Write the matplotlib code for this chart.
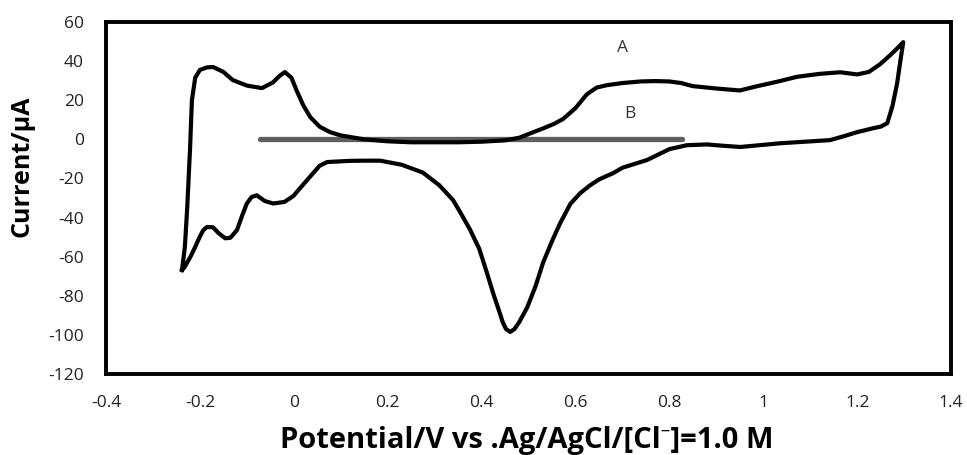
import matplotlib.pyplot as plt
import numpy as np

plt.rcParams['axes.unicode_minus'] = False

# curva A (voltametria ciclica)
E_A = [-0.238, -0.232, -0.227, -0.221, -0.217, -0.210, -0.200, -0.185, -0.172, -0.150,
       -0.130, -0.100, -0.068, -0.045, -0.030, -0.019, -0.005, 0.006, 0.020, 0.035,
       0.055, 0.077, 0.100, 0.120, 0.150, 0.200, 0.250, 0.300, 0.350, 0.400,
       0.450, 0.480, 0.503, 0.530, 0.555, 0.574, 0.600, 0.624, 0.645, 0.667,
       0.700, 0.738, 0.770, 0.800, 0.825, 0.850, 0.900, 0.950, 0.987, 1.030,
       1.072, 1.120, 1.164, 1.200, 1.225, 1.249, 1.270, 1.285, 1.298,
       1.293, 1.285, 1.275, 1.264, 1.250, 1.234, 1.200, 1.170, 1.142, 1.090,
       1.036, 0.990, 0.951, 0.910, 0.880, 0.837, 0.800, 0.752, 0.700, 0.680,
       0.650, 0.631, 0.610, 0.589, 0.567, 0.550, 0.531, 0.515, 0.497, 0.480,
       0.470, 0.461, 0.452, 0.445, 0.439, 0.425, 0.411, 0.395, 0.375, 0.355,
       0.339, 0.310, 0.275, 0.230, 0.184, 0.150, 0.120, 0.095, 0.071, 0.055,
       0.035, 0.015, -0.001, -0.020, -0.044, -0.062, -0.079, -0.090, -0.100, -0.110,
       -0.121, -0.135, -0.146, -0.160, -0.172, -0.185, -0.193, -0.200, -0.210, -0.220,
       -0.227, -0.233, -0.238]
I_A = [-66.8, -55.0, -35.0, -5.0, 20.0, 31.5, 35.5, 36.8, 37.0, 34.5,
       30.3, 27.5, 26.2, 29.0, 32.5, 34.4, 31.5, 25.0, 17.5, 11.4,
       6.5, 3.7, 2.0, 1.2, 0.0, -1.0, -1.5, -1.5, -1.5, -1.2,
       -0.5, 0.8, 3.0, 5.5, 8.0, 10.5, 16.0, 23.0, 26.5, 27.7,
       28.8, 29.6, 29.8, 29.6, 28.8, 27.2, 26.0, 25.0, 27.2, 29.5,
       32.0, 33.5, 34.3, 33.2, 34.5, 38.5, 43.0, 46.5, 49.7,
       42.0, 28.7, 17.0, 8.3, 6.5, 5.7, 3.7, 1.5, -0.4, -1.2,
       -2.0, -3.0, -3.9, -3.2, -2.6, -3.0, -5.0, -10.6, -14.5, -17.3,
       -20.5, -23.5, -27.5, -33.0, -43.0, -52.0, -63.0, -75.0, -86.0, -93.5,
       -97.0, -98.5, -97.0, -93.5, -89.0, -79.0, -68.0, -56.0, -46.0, -37.5,
       -31.0, -23.5, -17.0, -13.0, -10.9, -10.9, -11.0, -11.3, -11.6, -13.5,
       -19.0, -24.5, -29.0, -32.0, -32.8, -31.5, -28.6, -29.5, -32.8, -39.0,
       -46.4, -50.3, -50.6, -48.0, -45.0, -44.8, -46.5, -49.7, -55.0, -60.0,
       -63.0, -65.5, -66.8]

# linha B (branco)
E_B = [-0.072, 0.827]
I_B = [0.3, 0.3]

xticks = [-0.4, -0.2, 0, 0.2, 0.4, 0.6, 0.8, 1, 1.2, 1.4]
xtick_labels = ['-0.4', '-0.2', '0', '0.2', '0.4', '0.6', '0.8', '1', '1.2', '1.4']
yticks = [-120, -100, -80, -60, -40, -20, 0, 20, 40, 60]

fonte = ['Open Sans', 'Noto Sans', 'DejaVu Sans']

fig = plt.figure(figsize=(9.67, 4.55), dpi=100)
ax = fig.add_axes([0.1096, 0.178, 0.874, 0.7736])

ax.plot(E_B, I_B, color='#5f5f5f', lw=3.8, solid_capstyle='round', zorder=2)
ax.plot(E_A, I_A, color='black', lw=3.0, solid_joinstyle='round', zorder=3)

ax.text(0.700, 46.5, 'A', fontsize=12.5, ha='center', va='center', family=fonte, color='#333333')
ax.text(0.716, 13, 'B', fontsize=12.5, ha='center', va='center', family=fonte, color='#333333')

ax.set_xlim(-0.4, 1.4)
ax.set_ylim(-120, 60)
ax.set_xticks(xticks)
ax.set_xticklabels(xtick_labels)
ax.set_yticks(yticks)
ax.tick_params(length=0, labelsize=12.5)
ax.tick_params(axis='x', pad=15)
ax.tick_params(axis='y', pad=16)
for lab in ax.get_xticklabels() + ax.get_yticklabels():
    lab.set_family(fonte)
    lab.set_color('#222222')

for s in ax.spines.values():
    s.set_linewidth(2.8)
    s.set_color('black')

ax.set_xlabel('Potential/V vs .Ag/AgCl/[Cl\u207b]=1.0 M', fontsize=21, fontweight='bold', family=fonte)
ax.set_ylabel('Current/\u00b5A', fontsize=18, fontweight='bold', family=fonte)
ax.xaxis.set_label_coords(0.4976, -0.149)
ax.yaxis.set_label_coords(-0.084, 0.589)

fig.savefig('out.png', dpi=100)
